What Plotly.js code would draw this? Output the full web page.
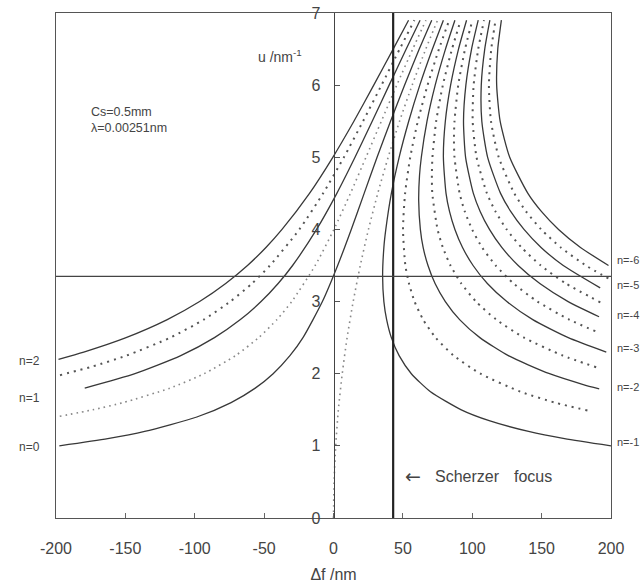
<!DOCTYPE html>
<html>
<head>
<meta charset="utf-8">
<script src="https://cdn.plot.ly/plotly-3.0.1.min.js"></script>
<style>html,body{margin:0;padding:0;background:#fff;}#chart{width:640px;height:587px;}</style>
</head>
<body>
<div id="chart"></div>
<script>
// ---- data: defocus (nm) vs spatial frequency u (1/nm) ----
// left-rising curves
const dfA = [-198.2, -180.0, -149.5, -119.8, -96.5, -77.7, -62.0, -48.7, -37.1, -17.3, -0.5, 14.7, 29.0, 43.0, 54.1];
const uA  = [2.2, 2.3, 2.5, 2.75, 3, 3.25, 3.5, 3.75, 4, 4.5, 5, 5.5, 6, 6.5, 6.9];
const dfB = [-197.1, -173.7, -149.4, -117.6, -93.5, -74.4, -58.8, -45.8, -24.6, -7.5, 7.5, 21.3, 34.6, 47.7, 58.3];
const uB  = [1.98, 2.1, 2.25, 2.5, 2.75, 3, 3.25, 3.5, 4, 4.5, 5, 5.5, 6, 6.5, 6.9];
const dfC = [-179.3, -143.1, -110.1, -85.8, -67.1, -52.2, -39.9, -29.5, -12.2, 2.4, 15.5, 27.9, 40.1, 52.4, 62.4];
const uC  = [1.8, 2, 2.25, 2.5, 2.75, 3, 3.25, 3.5, 4, 4.5, 5, 5.5, 6, 6.5, 6.9];
const dfD = [-197.3, -173.5, -151.6, -117.9, -93.3, -70.7, -53.9, -40.8, -30.1, -13.2, 0.3, 12.2, 23.4, 34.5, 45.6, 57.1, 66.6];
const uD  = [1.41, 1.5, 1.6, 1.8, 2, 2.25, 2.5, 2.75, 3, 3.5, 4, 4.5, 5, 5.5, 6, 6.5, 6.9];
const dfE = [-197.6, -162.7, -136.1, -98.5, -73.8, -56.4, -43.5, -31.4, -22.0, -8.0, 3.0, 12.8, 22.1, 31.4, 41.1, 51.2, 61.8, 70.8];
const uE  = [1.0, 1.1, 1.2, 1.4, 1.6, 1.8, 2, 2.25, 2.5, 3, 3.5, 4, 4.5, 5, 5.5, 6, 6.5, 6.9];
const dfF = [0, 0.4, 1.6, 3.5, 6.3, 9.8, 14.2, 19.3, 25.2, 31.9, 39.4, 47.6, 56.7, 66.5, 75.0];
const uF  = [0, 0.5, 1, 1.5, 2, 2.5, 3, 3.5, 4, 4.5, 5, 5.5, 6, 6.5, 6.9];
// right-hand curves
const dfG = [200, 166.5, 140.6, 112.2, 92.1, 69.9, 56.1, 47.3, 41.7, 38.3, 36.3, 35.4, 36.3, 37.7, 41.7, 47.3, 54.2, 62.2, 71.3, 79.2];
const uG  = [1.0, 1.1, 1.2, 1.35, 1.5, 1.75, 2, 2.25, 2.5, 2.75, 3, 3.35, 3.75, 4, 4.5, 5, 5.5, 6, 6.5, 6.9];
const dfH = [183.0, 159.6, 134.9, 105.9, 86.7, 73.6, 64.6, 58.4, 54.4, 51.8, 50.1, 51.6, 55.3, 60.8, 67.8, 76.0, 83.4];
const uH  = [1.49, 1.6, 1.75, 2, 2.25, 2.5, 2.75, 3, 3.25, 3.5, 4, 4.5, 5, 5.5, 6, 6.5, 6.9];
const dfI = [191.5, 180.0, 155.7, 126.0, 105.5, 90.9, 80.6, 73.2, 68.1, 64.6, 62.6, 61.4, 62.0, 63.3, 67.4, 73.3, 80.7, 87.5];
const uI  = [1.79, 1.85, 2, 2.25, 2.5, 2.75, 3, 3.25, 3.5, 3.75, 4, 4.4, 4.75, 5, 5.5, 6, 6.5, 6.9];
const dfJ = [189.3, 165.4, 137.3, 117.3, 102.7, 92.1, 84.3, 78.8, 75.0, 71.2, 70.9, 71.3, 74.0, 78.8, 85.4, 91.7];
const uJ  = [2.09, 2.25, 2.5, 2.75, 3, 3.25, 3.5, 3.75, 4, 4.5, 4.75, 5, 5.5, 6, 6.5, 6.9];
const dfK = [196.6, 169.2, 143.6, 124.9, 110.9, 100.6, 93.0, 87.5, 83.6, 81.1, 79.2, 80.6, 84.4, 90.1, 95.9];
const uK  = [2.3, 2.5, 2.75, 3, 3.25, 3.5, 3.75, 4, 4.25, 4.5, 5, 5.5, 6, 6.5, 6.9];
const dfL = [188.7, 169.9, 147.0, 129.8, 116.9, 107.1, 99.9, 94.6, 90.9, 87.2, 86.8, 87.2, 89.9, 94.8, 100.1];
const uL  = [2.59, 2.75, 3, 3.25, 3.5, 3.75, 4, 4.25, 4.5, 5, 5.25, 5.5, 6, 6.5, 6.9];
const dfM = [191.4, 169.1, 148.7, 133.1, 121.3, 112.4, 105.7, 100.8, 95.2, 93.7, 95.4, 99.5, 104.3];
const uM  = [2.79, 3, 3.25, 3.5, 3.75, 4, 4.25, 4.5, 5, 5.5, 6, 6.5, 6.9];
const dfN = [192.3, 167.5, 149.4, 135.5, 124.8, 116.7, 110.6, 103.1, 100.3, 101.0, 104.3, 108.5];
const uN  = [2.99, 3.25, 3.5, 3.75, 4, 4.25, 4.5, 5, 5.5, 6, 6.5, 6.9];
const dfO = [192.2, 165.6, 149.6, 137.3, 127.7, 120.4, 111.1, 106.9, 106.5, 109.0, 112.7];
const uO  = [3.19, 3.5, 3.75, 4, 4.25, 4.5, 5, 5.5, 6, 6.5, 6.9];
const dfP = [198.1, 181.9, 163.8, 149.7, 138.7, 130.3, 119.1, 113.5, 112.0, 113.7, 116.8];
const uP  = [3.32, 3.5, 3.75, 4, 4.25, 4.5, 5, 5.5, 6, 6.5, 6.9];
const dfQ = [198.2, 178.0, 162.2, 149.8, 140.1, 127.0, 120.1, 117.6, 118.4, 121.0];
const uQ  = [3.5, 3.75, 4, 4.25, 4.5, 5, 5.5, 6, 6.5, 6.9];

const scherzerDf = 43;      // Scherzer focus line
const glaserU = 3.35;       // horizontal reference line
const xTicks = [-200, -150, -100, -50, 0, 50, 100, 150, 200];
const xTickText = ['-200', '-150', '-100', '-50', '0', '50', '100', '150', '200'];
const leftLabels = ['n=2', 'n=1', 'n=0'];
const leftLabelU = [2.18, 1.66, 0.98];
const rightLabels = ['n=-6', 'n=-5', 'n=-4', 'n=-3', 'n=-2', 'n=-1'];
const rightLabelU = [3.58, 3.23, 2.82, 2.36, 1.82, 1.05];

// ---- styles ----
const SOLID = {color: '#383838', width: 1.3, dash: 'solid', shape: 'spline', smoothing: 0.6};
const DOT = {color: '#555', width: 2, dash: '2px,5px', shape: 'spline', smoothing: 0.6};
const DOTL = {color: '#888', width: 1.6, dash: '1.6px,4px', shape: 'spline', smoothing: 0.6};

const curves = [
  [dfA, uA, SOLID], [dfB, uB, DOT], [dfC, uC, SOLID], [dfD, uD, DOTL], [dfE, uE, SOLID], [dfF, uF, DOTL],
  [dfG, uG, SOLID], [dfH, uH, DOT], [dfI, uI, SOLID], [dfJ, uJ, DOT], [dfK, uK, SOLID], [dfL, uL, DOT],
  [dfM, uM, SOLID], [dfN, uN, DOT], [dfO, uO, SOLID], [dfP, uP, DOT], [dfQ, uQ, SOLID]
];

const traces = curves.map(function (c, i) {
  return {x: c[0], y: c[1], type: 'scatter', mode: 'lines', line: c[2], hoverinfo: 'skip', showlegend: false,
          yaxis: i === 5 ? 'y2' : 'y'};
});

const font = {family: 'Arial, "Liberation Sans", sans-serif', color: '#444'};
const annotations = [];
leftLabels.forEach(function (t, i) {
  annotations.push({text: t, xref: 'paper', yref: 'y', x: -0.071, y: leftLabelU[i], xanchor: 'left', yanchor: 'middle',
                    showarrow: false, font: Object.assign({size: 12}, font)});
});
rightLabels.forEach(function (t, i) {
  annotations.push({text: t, xref: 'paper', yref: 'y', x: 1.0065, y: rightLabelU[i], xanchor: 'left', yanchor: 'middle',
                    showarrow: false, font: Object.assign({size: 11}, font)});
});
annotations.push({text: 'Cs=0.5mm', xref: 'x', yref: 'y', x: -176, y: 5.63, xanchor: 'left', yanchor: 'middle', showarrow: false, font: Object.assign({size: 12.5}, font)});
annotations.push({text: 'λ=0.00251nm', xref: 'x', yref: 'y', x: -176, y: 5.41, xanchor: 'left', yanchor: 'middle', showarrow: false, font: Object.assign({size: 12.5}, font)});
annotations.push({text: 'u /nm<sup>-1</sup>', xref: 'x', yref: 'y', x: -21, y: 6.4, xanchor: 'right', yanchor: 'middle', showarrow: false, font: Object.assign({size: 14}, font)});
annotations.push({text: '←', xref: 'x', yref: 'y', x: 50, y: 0.58, xanchor: 'left', yanchor: 'middle', showarrow: false, font: {family: '"DejaVu Sans", sans-serif', color: '#444', size: 19}});
annotations.push({text: 'Scherzer', xref: 'x', yref: 'y', x: 72, y: 0.57, xanchor: 'left', yanchor: 'middle', showarrow: false, font: Object.assign({size: 16}, font)});
annotations.push({text: 'focus', xref: 'x', yref: 'y', x: 129, y: 0.57, xanchor: 'left', yanchor: 'middle', showarrow: false, font: Object.assign({size: 16}, font)});

const layout = {
  width: 640, height: 587,
  margin: {l: 56, r: 29, t: 13, b: 69},
  paper_bgcolor: '#fff', plot_bgcolor: '#fff',
  showlegend: false,
  xaxis: {
    range: [-200, 200], tickvals: xTicks, ticktext: xTickText, ticks: 'inside', ticklen: 5, tickcolor: '#666',
    showline: true, mirror: true, linecolor: '#555', linewidth: 1.2,
    showgrid: false, zeroline: false, tickfont: Object.assign({size: 16}, font), ticklabelstandoff: 16,
    title: {text: 'Δf /nm', font: Object.assign({size: 16}, font), standoff: 12}
  },
  yaxis: {
    range: [0, 7], showline: true, mirror: true, linecolor: '#555', linewidth: 1.2,
    showticklabels: false, ticks: '', showgrid: false, zeroline: false
  },
  yaxis2: {
    range: [0, 7], overlaying: 'y', anchor: 'free', position: 0.5, side: 'left', dtick: 1,
    ticks: 'inside', ticklen: 5, tickcolor: '#555', showline: true, linecolor: '#444', linewidth: 1.3,
    showgrid: false, zeroline: false, tickfont: Object.assign({size: 16}, font), ticklabelstandoff: 10
  },
  shapes: [
    {type: 'line', xref: 'x', yref: 'y', x0: scherzerDf, x1: scherzerDf, y0: 0, y1: 7, line: {color: '#222', width: 2.2}},
    {type: 'line', xref: 'x', yref: 'y', x0: -200, x1: 200, y0: glaserU, y1: glaserU, line: {color: '#444', width: 1.2}}
  ],
  annotations: annotations
};

Plotly.newPlot('chart', traces, layout, {staticPlot: true, displayModeBar: false});
</script>
</body>
</html>
